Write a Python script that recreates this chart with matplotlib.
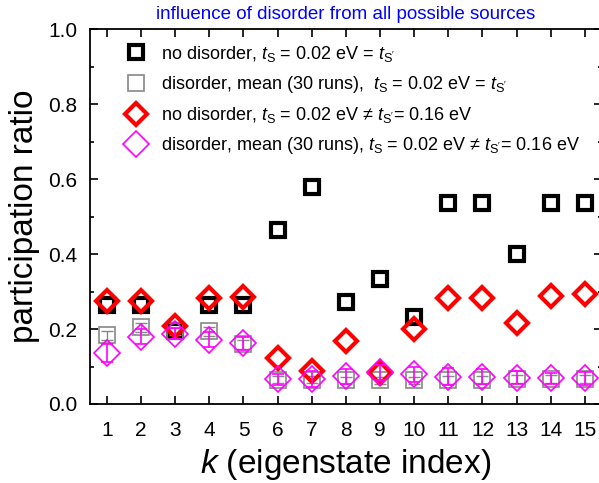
import numpy as np
import matplotlib
matplotlib.use("Agg")
import matplotlib.pyplot as plt
from matplotlib.ticker import MultipleLocator

plt.rcParams['font.family'] = ['Liberation Sans', 'DejaVu Sans']
plt.rcParams['mathtext.fontset'] = 'custom'
plt.rcParams['mathtext.rm'] = 'Liberation Sans'
plt.rcParams['mathtext.it'] = 'Liberation Sans:italic'

# eigenstate index
k = np.arange(1, 16)

# no disorder, t_S = t_S'
pr_black = [0.265, 0.265, 0.195, 0.265, 0.265, 0.465, 0.58, 0.273, 0.333, 0.233,
            0.535, 0.535, 0.40, 0.535, 0.535]
# disorder mean (30 runs), t_S = t_S'
pr_gray = [0.184, 0.205, 0.194, 0.194, 0.16, 0.065, 0.065, 0.063, 0.063, 0.063,
           0.064, 0.064, 0.066, 0.066, 0.066]
err_gray = [0.012, 0.012, 0.01, 0.012, 0.012, 0.01, 0.01, 0.01, 0.01, 0.01,
            0.01, 0.01, 0.01, 0.01, 0.01]
# no disorder, t_S != t_S'
pr_red = [0.276, 0.276, 0.208, 0.283, 0.286, 0.124, 0.089, 0.167, 0.083, 0.199,
          0.283, 0.284, 0.215, 0.289, 0.293]
# disorder mean (30 runs), t_S != t_S'
pr_mag = [0.136, 0.18, 0.188, 0.171, 0.162, 0.066, 0.066, 0.074, 0.084, 0.079,
          0.073, 0.073, 0.07, 0.068, 0.068]
err_mag = [0.025, 0.02, 0.015, 0.02, 0.018, 0.015, 0.022, 0.02, 0.02, 0.02,
           0.022, 0.02, 0.018, 0.015, 0.018]

fig = plt.figure(figsize=(5.99, 4.83), dpi=100)
ax = fig.add_axes([0.150, 0.1636, 0.855, 0.776])

h1, = ax.plot(k, pr_black, 's', mfc='none', mec='black', mew=3, ms=10,
              label=r"no disorder, $t_{\rm S}$ = 0.02 eV = $t_{\rm S'}$")
ax.errorbar(k, pr_gray, yerr=err_gray, fmt='none', ecolor='#888888',
            elinewidth=1, capsize=4, capthick=1)
h2, = ax.plot(k, pr_gray, 's', mfc='none', mec='#888888', mew=1.2, ms=12,
              label=r"disorder, mean (30 runs),  $t_{\rm S}$ = 0.02 eV = $t_{\rm S'}$")
h3, = ax.plot(k, pr_red, 'D', mfc='none', mec='red', mew=3, ms=11,
              label=r"no disorder, $t_{\rm S}$ = 0.02 eV ≠ $t_{\rm S'}$= 0.16 eV")
ax.errorbar(k, pr_mag, yerr=err_mag, fmt='none', ecolor='magenta',
            elinewidth=1.2, capsize=4, capthick=1.2)
h4, = ax.plot(k, pr_mag, 'D', mfc='none', mec='magenta', mew=1.2, ms=13,
              label=r"disorder, mean (30 runs), $t_{\rm S}$ = 0.02 eV ≠ $t_{\rm S'}$= 0.16 eV")

ax.set_xlim(0.5, 15.5)
ax.set_ylim(0, 1.0)
ax.set_xticks(k)
ax.yaxis.set_major_locator(MultipleLocator(0.2))
ax.yaxis.set_minor_locator(MultipleLocator(0.1))
ax.yaxis.set_major_formatter(matplotlib.ticker.FormatStrFormatter('%.1f'))
ax.tick_params(which='both', direction='in', top=True, right=True, width=1.2)
ax.tick_params(which='major', length=6, labelsize=15)
ax.tick_params(axis='x', which='major', pad=12)
ax.tick_params(axis='y', which='major', pad=9)
ax.tick_params(which='minor', length=3)
for s in ax.spines.values():
    s.set_linewidth(1.3)

ax.set_xlabel(r"$k$ (eigenstate index)", fontsize=24, labelpad=5)
ax.set_ylabel("participation ratio", fontsize=24, labelpad=6)
ax.set_title("influence of disorder from all possible sources", color='blue',
             fontsize=13.5, pad=7)

leg = ax.legend(handles=[h1, h2, h3, h4], loc='upper left', frameon=False,
                fontsize=13, handlelength=1.2, handletextpad=0.8,
                labelspacing=0.57, borderaxespad=0.4,
                bbox_to_anchor=(0.04, 1.0))

fig.savefig("out.png", dpi=100)
